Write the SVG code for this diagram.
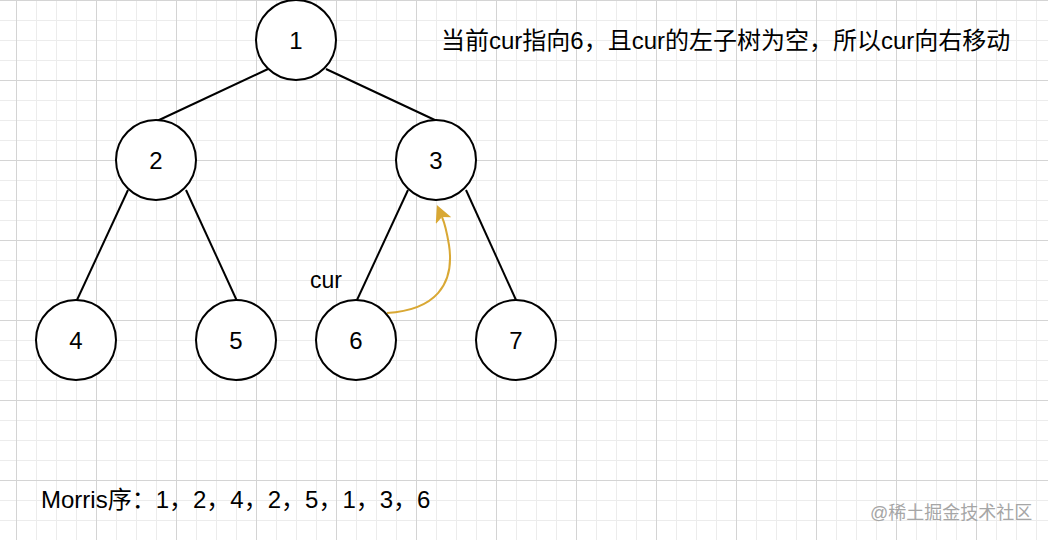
<svg xmlns="http://www.w3.org/2000/svg" width="1048" height="540" viewBox="0 0 1048 540">
<style>
.node circle{fill:#ffffff;stroke:#000000;stroke-width:2}
.node text{font-family:"Liberation Sans","Noto Sans CJK SC",sans-serif;font-size:24px;fill:#000000;text-anchor:middle}
.edge{stroke:#000000;stroke-width:2;fill:none}
.label{font-family:"Liberation Sans","Noto Sans CJK SC",sans-serif;fill:#000000}
</style>
<defs>
<pattern id="grid" x="16" y="0" width="80" height="80" patternUnits="userSpaceOnUse">
<path d="M20.5 0V80M40.5 0V80M60.5 0V80M0 20.5H80M0 40.5H80M0 60.5H80" stroke="#ececec" stroke-width="1" fill="none"/>
<path d="M0.5 0V80M0 0.5H80" stroke="#d4d4d4" stroke-width="1" fill="none"/>
</pattern>
<marker id="arrow" viewBox="0 0 17 17" markerWidth="17" markerHeight="17" refX="4" refY="8.5" orient="auto" markerUnits="userSpaceOnUse">
<path d="M0,0 L17,8.5 L0,17 L4,8.5 Z" fill="#d9a834"/>
</marker>
</defs>
<rect width="1048" height="540" fill="#ffffff"/>
<rect width="1048" height="540" fill="url(#grid)"/>
<g id="connectors">
<path class="edge" d="M268,69L157,121"/>
<path class="edge" d="M326,69L437,121"/>
<path class="edge" d="M128,190L77,300"/>
<path class="edge" d="M186,190L237,301"/>
<path class="edge" d="M408,190L357,300"/>
<path class="edge" d="M466,190L516,300"/>
<path d="M387,313 C435,310 455,285 449,245 C447,233 445,224 442,217" stroke="#d9a834" stroke-width="2" fill="none" marker-end="url(#arrow)"/>
</g>
<g id="n1" class="node"><circle cx="296" cy="40" r="40"/><text x="296" y="49">1</text></g>
<g id="n2" class="node"><circle cx="156" cy="160" r="40"/><text x="156" y="169">2</text></g>
<g id="n3" class="node"><circle cx="436" cy="160" r="40"/><text x="436" y="169">3</text></g>
<g id="n4" class="node"><circle cx="76" cy="340" r="40"/><text x="76" y="349">4</text></g>
<g id="n5" class="node"><circle cx="236" cy="340" r="40"/><text x="236" y="349">5</text></g>
<g id="n6" class="node"><circle cx="356" cy="340" r="40"/><text x="356" y="349">6</text></g>
<g id="n7" class="node"><circle cx="516" cy="340" r="40"/><text x="516" y="349">7</text></g>
<g id="cur-label"><text class="label" x="310" y="288" font-size="23">cur</text></g>
<g id="title"><text class="label" x="441" y="49" font-size="24">当前cur指向6，且cur的左子树为空，所以cur向右移动</text></g>
<g id="morris"><text class="label" x="41" y="508" font-size="24">Morris序：1，2，4，2，5，1，3，6</text></g>
<g id="watermark"><text x="870" y="519" font-family="Liberation Sans,'Noto Sans CJK SC',sans-serif" font-size="18" fill="#a6a6a6">@稀土掘金技术社区</text></g>
</svg>
